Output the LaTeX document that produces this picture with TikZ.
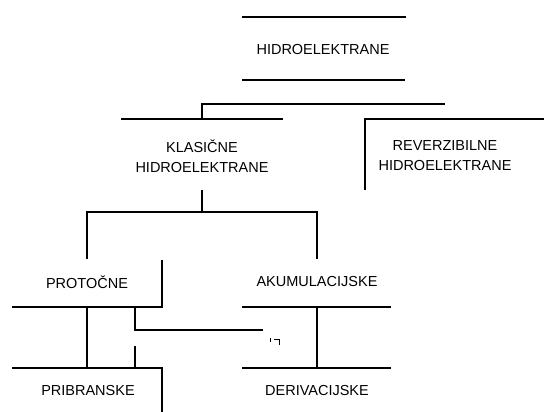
\documentclass[tikz,border=0pt]{standalone}
\usepackage{fontspec}
\setmainfont{Liberation Sans}
\tikzset{every picture/.style={line width=1.2pt}}
\tikzset{
  label/.style={font=\fontsize{14.5}{20}\selectfont, align=center,
                inner sep=0pt, outer sep=0pt},
}
\begin{document}
\begin{tikzpicture}[x=1pt, y=-1pt]
  \useasboundingbox[fill=white] (0,0) rectangle (544,412);
  % texts
  \node[label] (hidro) at (323,50) {HIDROELEKTRANE};
  \node[label] (klas) at (202,156) {KLASIČNE\\HIDROELEKTRANE};
  \node[label] (rev) at (445,156) {REVERZIBILNE\\HIDROELEKTRANE};
  \node[label] (prot) at (87,282) {PROTOČNE};
  \node[label] (akum) at (317,282) {AKUMULACIJSKE};
  \node[label] (prib) at (88,391) {PRIBRANSKE};
  \node[label] (deri) at (317,391) {DERIVACIJSKE};
  % top box
  \draw (242,17) -- (406,17);
  \draw (242,80) -- (405,80);
  % first branch
  \draw (445,104) -- (202,104) -- (202,119);
  \draw (121,119) -- (283,119);
  \draw (544,119) -- (365,119) -- (365,190);
  % second branch
  \draw (202,190) -- (202,212);
  \draw (87,259) -- (87,212) -- (317,212) -- (317,259);
  % protocne
  \draw (162,260) -- (162,307) -- (12,307);
  \draw (87,307) -- (87,368);
  \draw (135,307) -- (135,330) -- (263,330);
  \draw (274,339.5) -- (279.5,339.5) -- (279.5,344.5);
  \draw (270.5,338) -- (270.5,341.5);
  \draw (135,346) -- (135,368);
  \draw (12,368) -- (162,368) -- (162,412);
  % akumulacijske
  \draw (242,307) -- (391,307);
  \draw (317,307) -- (317,368);
  \draw (242,368) -- (391,368);
\end{tikzpicture}
\end{document}
